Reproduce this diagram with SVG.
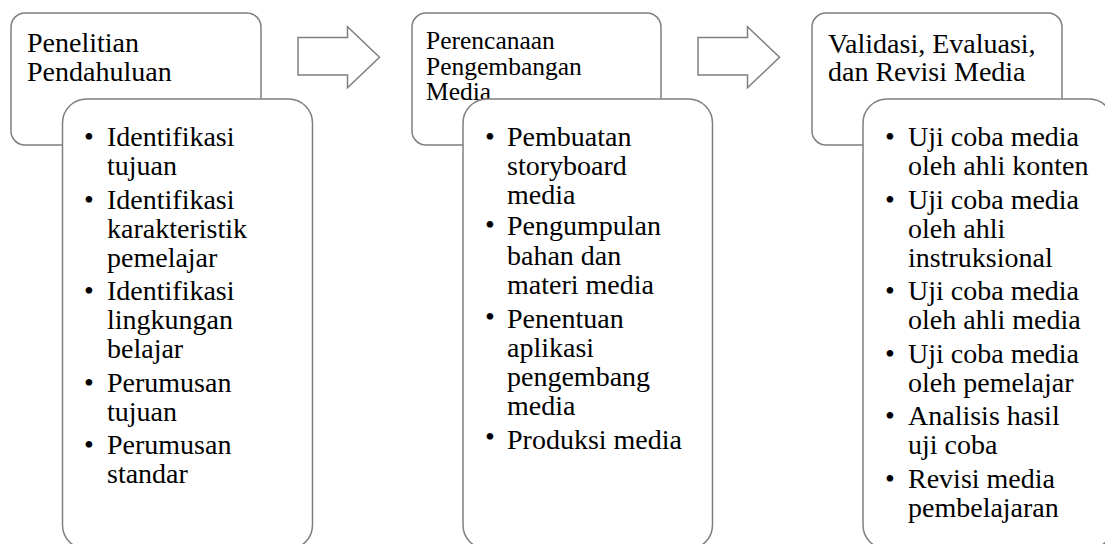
<svg xmlns="http://www.w3.org/2000/svg" width="1105" height="544" viewBox="0 0 1105 544">
<style>
.box{fill:#fff;stroke:#7f7f7f;stroke-width:1.5}
.arr{fill:#fff;stroke:#7f7f7f;stroke-width:1.5;stroke-linejoin:miter}
.t{font-family:"Liberation Serif","Times New Roman",serif;font-size:28px;fill:#000}
.t2{font-family:"Liberation Serif","Times New Roman",serif;font-size:25.5px;fill:#000}
.b{text-anchor:middle}
</style>
<rect width="1105" height="544" fill="#fff"/>
<g id="connectors">
<path class="arr" d="M298,37.5 H347.5 V26.7 L379.5,57.3 L347.5,87.7 V75 H298 Z"/>
<path class="arr" d="M698,37.5 H747.5 V26.7 L779.5,57.3 L747.5,87.7 V75 H698 Z"/>
</g>
<g id="step1">
<rect class="box" x="11" y="13" width="250" height="132" rx="14"/>
<text class="t"><tspan x="27" y="52">Penelitian</tspan><tspan x="27" y="81">Pendahuluan</tspan></text>
</g>
<g id="step1-list">
<rect class="box" x="62.5" y="99" width="250" height="450" rx="24"/>
<g class="t b"><text x="89" y="146">•</text><text x="89" y="208.5">•</text><text x="89" y="300">•</text><text x="89" y="391.5">•</text><text x="89" y="454">•</text></g>
<text class="t"><tspan x="107" y="146">Identifikasi</tspan><tspan x="107" y="175">tujuan</tspan><tspan x="107" y="208.5">Identifikasi</tspan><tspan x="107" y="237.5">karakteristik</tspan><tspan x="107" y="266.5">pemelajar</tspan><tspan x="107" y="300">Identifikasi</tspan><tspan x="107" y="329">lingkungan</tspan><tspan x="107" y="358">belajar</tspan><tspan x="107" y="391.5">Perumusan</tspan><tspan x="107" y="420.5">tujuan</tspan><tspan x="107" y="454">Perumusan</tspan><tspan x="107" y="483">standar</tspan></text>
</g>
<g id="step2">
<rect class="box" x="412" y="13" width="249" height="132" rx="14"/>
<text class="t2"><tspan x="426" y="49">Perencanaan</tspan><tspan x="426" y="74.5">Pengembangan</tspan><tspan x="426" y="100">Media</tspan></text>
</g>
<g id="step2-list">
<rect class="box" x="463" y="99" width="249.5" height="450" rx="24"/>
<g class="t b"><text x="490" y="146">•</text><text x="490" y="233.5">•</text><text x="490" y="325.5">•</text><text x="490" y="446">•</text></g>
<text class="t"><tspan x="507" y="146">Pembuatan</tspan><tspan x="507" y="175">storyboard</tspan><tspan x="507" y="204">media</tspan><tspan x="507" y="235">Pengumpulan</tspan><tspan x="507" y="264.5">bahan dan</tspan><tspan x="507" y="294">materi media</tspan><tspan x="507" y="328">Penentuan</tspan><tspan x="507" y="357">aplikasi</tspan><tspan x="507" y="386">pengembang</tspan><tspan x="507" y="415">media</tspan><tspan x="507" y="448.5">Produksi media</tspan></text>
</g>
<g id="step3">
<rect class="box" x="812" y="13" width="250" height="132" rx="14"/>
<text class="t"><tspan x="828" y="52.5">Validasi, Evaluasi,</tspan><tspan x="828" y="81">dan Revisi Media</tspan></text>
</g>
<g id="step3-list">
<rect class="box" x="863" y="99" width="250" height="450" rx="24"/>
<g class="t b"><text x="890" y="146">•</text><text x="890" y="208.5">•</text><text x="890" y="300">•</text><text x="890" y="362.5">•</text><text x="890" y="425">•</text><text x="890" y="487.5">•</text></g>
<text class="t"><tspan x="908" y="146">Uji coba media</tspan><tspan x="908" y="175">oleh ahli konten</tspan><tspan x="908" y="208.5">Uji coba media</tspan><tspan x="908" y="237.5">oleh ahli</tspan><tspan x="908" y="266.5">instruksional</tspan><tspan x="908" y="300">Uji coba media</tspan><tspan x="908" y="329">oleh ahli media</tspan><tspan x="908" y="362.5">Uji coba media</tspan><tspan x="908" y="391.5">oleh pemelajar</tspan><tspan x="908" y="425">Analisis hasil</tspan><tspan x="908" y="454">uji coba</tspan><tspan x="908" y="487.5">Revisi media</tspan><tspan x="908" y="516.5">pembelajaran</tspan></text>
</g>
</svg>
